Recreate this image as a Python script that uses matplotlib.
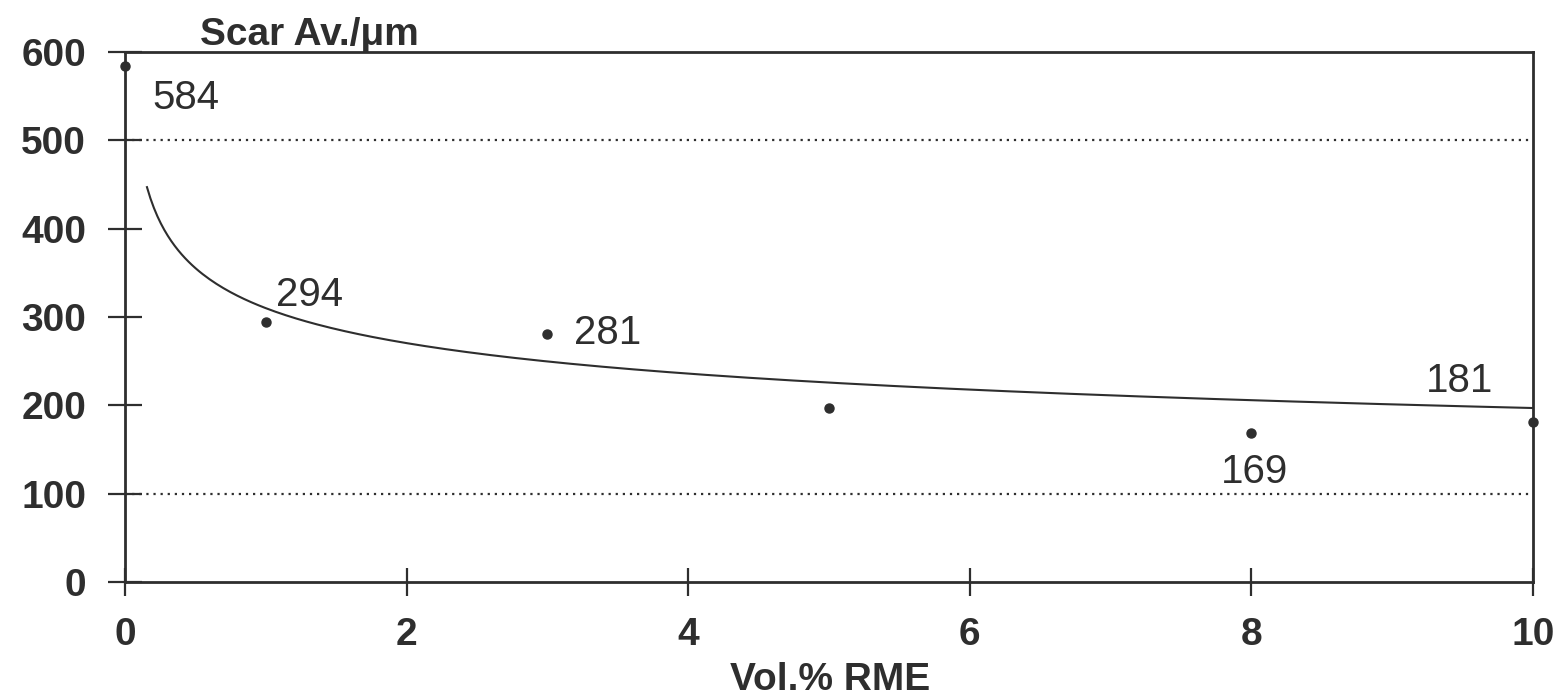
import numpy as np
import matplotlib
matplotlib.use("Agg")
import matplotlib.pyplot as plt

# ---- data ----
x_vals = [0, 1, 3, 5, 8, 10]
y_vals = [584, 294, 281, 197, 169, 181]
labels = ["584", "294", "281", "", "169", "181"]
label_pos = [(0.43, 548), (1.31, 325), (3.43, 282), None, (8.02, 125), (9.48, 228)]
x_ticks = [0, 2, 4, 6, 8, 10]
y_ticks = [0, 100, 200, 300, 400, 500, 600]
grid_levels = [100, 500]
# power-law trend line y = a * x**b
trend_a = 310.0
trend_b = -0.197
trend_x_start = 0.156
trend_x_end = 10.0

ink = "#2e2e2e"
plt.rcParams['font.family'] = ['Liberation Sans', 'DejaVu Sans']

fig = plt.figure(figsize=(15.59, 6.98), dpi=100)
ax = fig.add_axes([125/1559, 1-582/698, (1533-125)/1559, (582-52)/698])

for g in grid_levels:
    ax.axhline(g, color=ink, lw=1.6, ls=(0, (1, 2.2)), zorder=1)

xt = np.linspace(trend_x_start, trend_x_end, 400)
ax.plot(xt, trend_a * xt ** trend_b, color=ink, lw=1.5, zorder=2)

ax.plot(x_vals, y_vals, 'o', color=ink, ms=6.5, clip_on=False, zorder=3)

for lab, pos in zip(labels, label_pos):
    if pos is None or not lab:
        continue
    ax.text(pos[0], pos[1], lab, ha='center', va='center', fontsize=29, color=ink)

ax.set_xlim(0, 10)
ax.set_ylim(0, 600)
ax.set_xticks(x_ticks)
ax.set_yticks(y_ticks)
ax.tick_params(axis='both', direction='inout', colors=ink, labelsize=28, width=1.6)
ax.tick_params(axis='x', length=20, pad=15)
ax.tick_params(axis='y', length=24, pad=16)
for t in ax.get_xticklabels() + ax.get_yticklabels():
    t.set_fontweight('bold')
for s in ax.spines.values():
    s.set_color(ink)
    s.set_linewidth(2)

fig.text(200/1559, 1-45/698, "Scar Av./μm", fontsize=28, fontweight='bold',
         color=ink, ha='left', va='baseline')
fig.text(830/1559, 1-680/698, "Vol.% RME", fontsize=28, fontweight='bold',
         color=ink, ha='center', va='center')

fig.savefig("out.png", dpi=100)
